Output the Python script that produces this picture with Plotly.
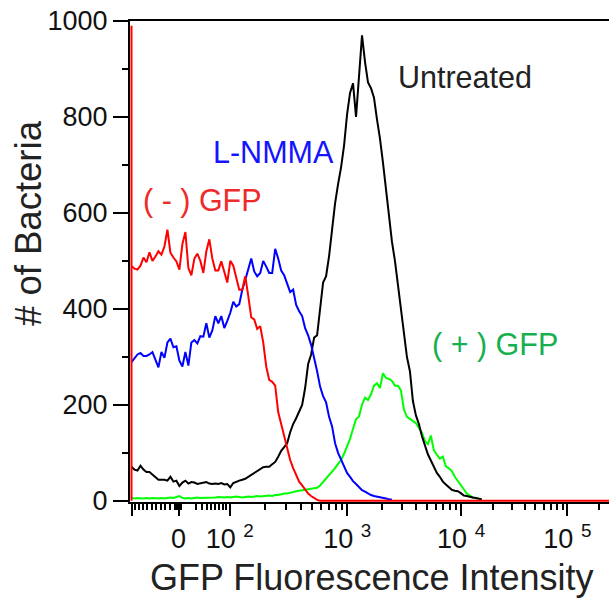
import math
import plotly.graph_objects as go

# ---- data: counts per display channel of the (logicle) GFP axis ----
red_vals = [489, 484, 482, 490, 507, 497, 518, 500, 509, 520, 513, 530, 565, 517, 507, 499, 482, 535, 560, 485,
            470, 505, 515, 500, 475, 520, 545, 505, 480, 480, 499, 478, 455, 500, 490, 465, 440, 440, 468, 427,
            382, 378, 358, 364, 330, 280, 252, 248, 240, 185, 160, 132, 110, 85, 68, 52, 40, 32, 23, 15,
            10, 6, 2, 0]
red_first_bin = 990        # off-scale pile-up in the lowest channel
red_last_channel = 160     # (-) GFP histogram stays at zero up to the end of the axis

blue_vals = [289, 297, 305, 308, 302, 302, 305, 310, 295, 278, 310, 298, 330, 338, 320, 322, 292, 280, 310, 282,
             330, 335, 328, 343, 342, 370, 340, 355, 385, 370, 385, 360, 375, 392, 415, 405, 410, 440, 460, 485,
             505, 478, 468, 475, 500, 488, 475, 475, 525, 505, 480, 470, 450, 435, 440, 408, 395, 385, 360, 345,
             325, 300, 270, 238, 218, 205, 175, 155, 120, 100, 86, 72, 58, 50, 41, 35, 29, 22, 19, 15,
             12, 10, 9, 8, 6, 5, 3, 2]

black_vals = [71, 65, 63, 73, 65, 60, 60, 54, 50, 44, 44, 44, 42, 50, 40, 42, 31, 38, 42, 36,
              39, 38, 35, 36, 37, 39, 36, 35, 36, 35, 37, 34, 35, 28, 37, 40, 42, 44, 46, 50,
              54, 59, 63, 67, 70, 71, 71, 76, 81, 92, 104, 112, 120, 143, 160, 172, 185, 200, 235, 285,
              305, 340, 345, 400, 455, 468, 510, 565, 620, 660, 695, 740, 805, 850, 870, 800, 880, 970, 915, 872,
              860, 840, 795, 755, 705, 645, 590, 540, 500, 450, 410, 350, 300, 270, 208, 178, 160, 135, 115, 97,
              84, 70, 58, 50, 40, 34, 28, 23, 21, 20, 16, 11, 10, 8, 7, 6, 5, 3]

green_vals = [6, 5, 6, 5, 5, 6, 5, 6, 5, 5, 6, 5, 6, 7, 6, 8, 10, 6, 5, 6,
              5, 6, 7, 6, 6, 7, 6, 6, 7, 8, 7, 7, 8, 7, 8, 9, 8, 7, 8, 9,
              8, 9, 10, 9, 10, 10, 11, 10, 12, 12, 14, 15, 15, 17, 18, 20, 21, 22, 23, 24,
              26, 26, 27, 32, 39, 45, 52, 60, 68, 77, 85, 98, 112, 129, 150, 170, 176, 200, 215, 210,
              222, 240, 245, 235, 266, 256, 254, 250, 240, 240, 230, 190, 175, 170, 166, 162, 152, 142, 125, 118,
              136, 105, 96, 88, 92, 72, 68, 62, 50, 42, 33, 24, 15, 10, 7, 6, 5, 3]

# ---- axis definition (channel positions of the logicle decades) ----
zero_channel = 15.7
decade_channels = [32.8, 72.1, 110.1, 145.6]   # 10^2, 10^3, 10^4, 10^5
decade_exps = [2, 3, 4, 5]
low_minor_channels = [1.2, 2.5, 4.0, 5.3, 6.8, 8.3, 9.7, 11.2, 12.8, 14.5, 15.2, 16.5,
                      21.7, 23.4, 25.3, 26.7, 27.8, 29.2, 30.4, 31.7]
y_ticks = [0, 200, 400, 600, 800, 1000]

x_range = [-0.5, 159.5]

tick_vals = [0, zero_channel] + decade_channels
tick_text = ["", "0"] + ["10 <sup>%d</sup>" % e for e in decade_exps]

minor_vals = list(low_minor_channels)
edges = decade_channels + [decade_channels[-1] + (decade_channels[-1] - decade_channels[-2])]
for a, b in zip(edges[:-1], edges[1:]):
    for m in range(2, 10):
        v = a + math.log10(m) * (b - a)
        if v <= x_range[1]:
            minor_vals.append(v)

FONT = "Liberation Sans, Arial, Helvetica, sans-serif"

def ch(vals):
    return list(range(len(vals)))

fig = go.Figure()
line_w = 2
fig.add_trace(go.Scatter(x=ch(green_vals), y=green_vals, mode="lines",
                         line=dict(color="#00ff00", width=line_w), name="(+) GFP"))
fig.add_trace(go.Scatter(x=ch(black_vals), y=black_vals, mode="lines",
                         line=dict(color="#000000", width=line_w), name="Untreated"))
fig.add_trace(go.Scatter(x=ch(blue_vals), y=blue_vals, mode="lines",
                         line=dict(color="#0000ff", width=line_w), name="L-NMMA"))
fig.add_trace(go.Scatter(x=ch(red_vals) + [red_last_channel], y=red_vals + [0], mode="lines",
                         line=dict(color="#ff0000", width=line_w), name="(-) GFP"))
fig.add_trace(go.Scatter(x=[0, 0], y=[0, red_first_bin], mode="lines",
                         line=dict(color="#ff0000", width=line_w), name="(-) GFP overflow"))

annots = [
    dict(text="Untreated", x=111.5, y=884, color="#222222"),
    dict(text="L-NMMA", x=47.3, y=727, color="#1414ff"),
    dict(text="( - ) GFP", x=23.6, y=626, color="#ee2a2a"),
    dict(text="( + ) GFP", x=121.4, y=326, color="#17b04f"),
]
for a in annots:
    fig.add_annotation(x=a["x"], y=a["y"], xref="x", yref="y", text=a["text"], showarrow=False,
                       font=dict(family=FONT, size=30.5, color=a["color"]),
                       xanchor="center", yanchor="middle")

fig.add_annotation(text="# of Bacteria", xref="paper", yref="paper", x=-0.213, y=0.58,
                   textangle=-90, showarrow=False, xanchor="center", yanchor="middle",
                   font=dict(family=FONT, size=36.5, color="#222222"))
fig.add_annotation(text="GFP Fluorescence Intensity", xref="paper", yref="paper", x=0.506, y=-0.158,
                   showarrow=False, xanchor="center", yanchor="middle",
                   font=dict(family=FONT, size=36, color="#222222"))

fig.update_layout(
    width=609, height=601,
    margin=dict(l=130, r=0, t=21, b=99),
    plot_bgcolor="white", paper_bgcolor="white",
    showlegend=False,
    font=dict(family=FONT, color="#111111"),
)
fig.update_xaxes(
    range=x_range, showgrid=False, zeroline=False,
    showline=True, linecolor="black", linewidth=2, mirror=True,
    tickmode="array", tickvals=tick_vals, ticktext=tick_text,
    ticks="outside", ticklen=12, tickwidth=2, tickcolor="black",
    tickfont=dict(family=FONT, size=27, color="#111111"),
    minor=dict(tickmode="array", tickvals=minor_vals, ticks="outside", ticklen=6,
               tickwidth=1.5, tickcolor="black", showgrid=False),
    layer="below traces",
)
fig.update_yaxes(
    range=[-2.5, 1000], showgrid=False, zeroline=False,
    showline=True, linecolor="black", linewidth=2, mirror=False,
    tickmode="array", tickvals=y_ticks, ticktext=[str(v) for v in y_ticks],
    ticks="outside", ticklen=15, tickwidth=2, tickcolor="black",
    tickfont=dict(family=FONT, size=27, color="#111111"),
    minor=dict(dtick=100, tick0=0, ticks="outside", ticklen=6, tickwidth=2,
               tickcolor="black", showgrid=False),
    layer="below traces",
)

fig.write_html("out.html", config={"displayModeBar": False},
               post_script="document.body.style.margin='0';document.body.style.padding='0';")
